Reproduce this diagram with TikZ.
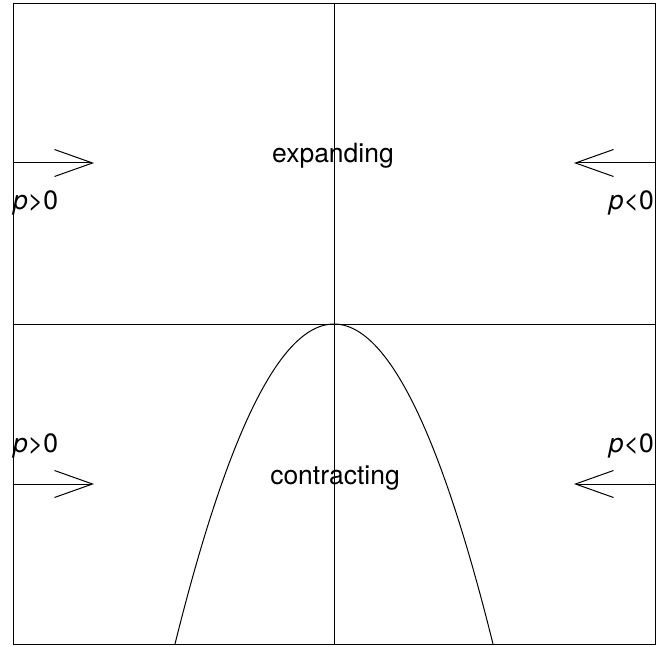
\documentclass[tikz,border=0pt]{standalone}
\usepackage{fontspec}
\setmainfont{TeX Gyre Heros}
\usetikzlibrary{arrows.meta}
\begin{document}
\begin{tikzpicture}[x=1pt,y=-1pt,
  lbl/.style={inner sep=0pt,font=\fontsize{26.5}{26.5}\selectfont},
  ln/.style={line width=1pt},
  flow/.style={ln,-{Straight Barb[length=38pt,width=27pt,line width=1pt]}}]
\useasboundingbox (0,0) rectangle (667,647);
\draw[ln] (13,4) rectangle (655,644);
\coordinate (ctop) at (334,4);
\coordinate (cbot) at (334,644);
\coordinate (cl) at (13,324);
\coordinate (cr) at (655,324);
\draw[ln] (ctop) -- (cbot);
\draw[ln] (cl) -- (cr);
\draw[ln,domain=175:493,samples=80,smooth] plot (\x,{324+320*((\x-334)/159)^2});
% arrows
\coordinate (a1s) at (13,163); \coordinate (a1e) at (94,163);
\coordinate (a2s) at (655,163); \coordinate (a2e) at (574,163);
\coordinate (a3s) at (13,484); \coordinate (a3e) at (94,484);
\coordinate (a4s) at (655,484); \coordinate (a4e) at (574,484);
\draw[flow] (a1s) -- (a1e);
\draw[flow] (a2s) -- (a2e);
\draw[flow] (a3s) -- (a3e);
\draw[flow] (a4s) -- (a4e);
% labels
\node[lbl,anchor=base] (exp) at (333,163) {expanding};
\node[lbl,anchor=base] (con) at (335,484) {contracting};
\node[lbl,anchor=base west] (p1) at (13,210) {\textit{p}>0};
\node[lbl,anchor=base east] (p2) at (654,210) {\textit{p}<0};
\node[lbl,anchor=base west] (p3) at (13,452) {\textit{p}>0};
\node[lbl,anchor=base east] (p4) at (654,452) {\textit{p}<0};
\end{tikzpicture}
\end{document}
